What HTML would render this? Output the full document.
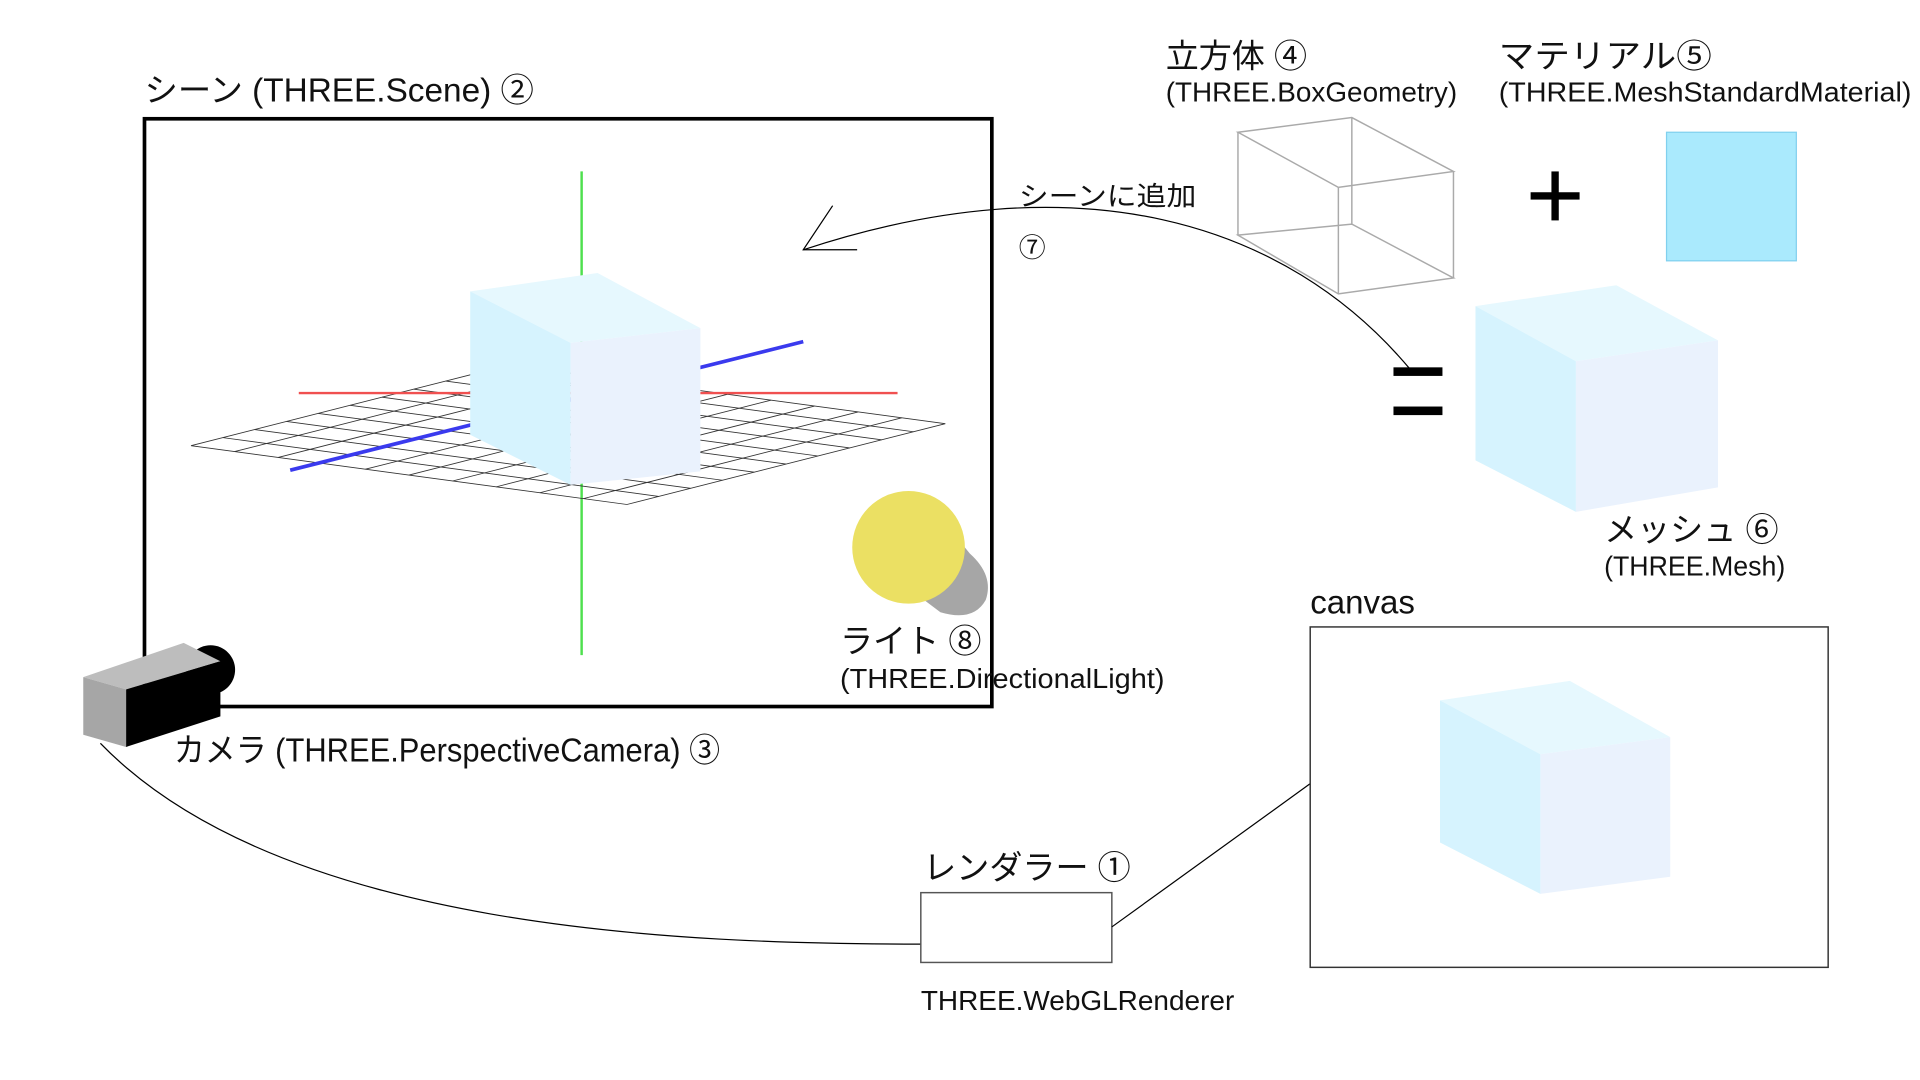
<!DOCTYPE html>
<html><head><meta charset="utf-8"><style>
html,body{margin:0;padding:0;background:#fff;width:1920px;height:1080px;overflow:hidden}
svg{display:block}
text{font-family:"Liberation Sans","Noto Sans CJK JP",sans-serif;fill:#111}
</style></head><body>
<svg width="1920" height="1080" viewBox="0 0 1568 882" preserveAspectRatio="none" xmlns="http://www.w3.org/2000/svg">
<rect width="1568" height="882" fill="#fff"/>
<!-- Scene -->
<text x="118" y="83" font-size="27" textLength="318" lengthAdjust="spacingAndGlyphs">シーン (THREE.Scene) ②</text>
<rect x="118" y="97" width="692" height="480" fill="none" stroke="#000" stroke-width="3"/>
<line x1="475" y1="140" x2="475" y2="535" stroke="#4ee04e" stroke-width="2"/>
<g stroke="#333" stroke-width="0.7" fill="none">
<path d="M156,364 L512,412 L772,346 L416,298 Z"/>
<path d="M182,357.4L538,405.4M208,350.8L564,398.8M234,344.2L590,392.2M260,337.6L616,385.6M286,331L642,379M312,324.4L668,372.4M338,317.8L694,365.8M364,311.2L720,359.2M390,304.6L746,352.6"/>
<path d="M191.6,368.8L451.6,302.8M227.2,373.6L487.2,307.6M262.8,378.4L522.8,312.4M298.4,383.2L558.4,317.2M334,388L594,322M369.6,392.8L629.6,326.8M405.2,397.6L665.2,331.6M440.8,402.4L700.8,336.4M476.4,407.2L736.4,341.2"/>
</g>
<line x1="244" y1="321" x2="733" y2="321" stroke="#f05050" stroke-width="2"/>
<line x1="237" y1="384" x2="656" y2="279" stroke="#3a3aee" stroke-width="3"/>
<polygon points="384,238 488,223 572,268 466,280" fill="#e6f8fe"/>
<polygon points="384,238 466,280 466,396 384,355" fill="#d6f3fe"/>
<polygon points="466,280 572,268 572,385 466,396" fill="#eaf2fd"/>
<!-- light -->
<path d="M770,425 L792,452 Q812,470 805,490 Q795,508 768,500 L752,488 Z" fill="#a6a6a6"/>
<circle cx="742" cy="447" r="46" fill="#ebe063"/>
<text x="686" y="533" font-size="27">ライト ⑧</text>
<text x="686" y="562" font-size="23" textLength="265" lengthAdjust="spacingAndGlyphs">(THREE.DirectionalLight)</text>
<!-- camera -->
<circle cx="172" cy="547" r="20" fill="#000"/>
<polygon points="68,553 150,525 180,540 103,563" fill="#bdbdbd"/>
<polygon points="68,553 103,563 103,610 68,600" fill="#a6a6a6"/>
<polygon points="103,563 180,540 180,585 103,610" fill="#000"/>
<text x="142" y="622" font-size="27" textLength="446" lengthAdjust="spacingAndGlyphs">カメラ (THREE.PerspectiveCamera) ③</text>
<path d="M82,607 C230,760 560,771 752,771" fill="none" stroke="#000" stroke-width="1"/>
<!-- renderer -->
<text x="754" y="718" font-size="27">レンダラー ①</text>
<rect x="752" y="729" width="156" height="57" fill="none" stroke="#555" stroke-width="1.2"/>
<text x="752" y="825" font-size="23" textLength="256" lengthAdjust="spacingAndGlyphs">THREE.WebGLRenderer</text>
<line x1="908" y1="757" x2="1070" y2="640" stroke="#000" stroke-width="1"/>
<!-- canvas -->
<text x="1070" y="501" font-size="27">canvas</text>
<rect x="1070" y="512" width="423" height="278" fill="none" stroke="#333" stroke-width="1.2"/>
<polygon points="1176,572 1282,556 1364,602 1258,616" fill="#e6f8fe"/>
<polygon points="1176,572 1258,616 1258,730 1176,688" fill="#d6f3fe"/>
<polygon points="1258,616 1364,602 1364,716 1258,730" fill="#eaf2fd"/>
<!-- geometry / material -->
<text x="952" y="55" font-size="27">立方体 ④</text>
<text x="952" y="83" font-size="23" textLength="238" lengthAdjust="spacingAndGlyphs">(THREE.BoxGeometry)</text>
<g stroke="#aaa" stroke-width="1.2" fill="none">
<polygon points="1011,108 1104,96 1187,140 1093,153"/>
<polygon points="1011,192 1104,183 1187,227 1093,240"/>
<line x1="1011" y1="108" x2="1011" y2="192"/><line x1="1104" y1="96" x2="1104" y2="183"/>
<line x1="1187" y1="140" x2="1187" y2="227"/><line x1="1093" y1="153" x2="1093" y2="240"/>
</g>
<rect x="1250" y="157" width="40" height="6" fill="#000"/>
<rect x="1267" y="140" width="6" height="40" fill="#000"/>
<text x="1224" y="55" font-size="27" textLength="174" lengthAdjust="spacingAndGlyphs">マテリアル⑤</text>
<text x="1224" y="83" font-size="23" textLength="337" lengthAdjust="spacingAndGlyphs">(THREE.MeshStandardMaterial)</text>
<rect x="1361" y="108" width="106" height="105" fill="#aaeafd" stroke="#80d0ee" stroke-width="1"/>
<!-- mesh -->
<rect x="1138" y="300" width="40" height="7" fill="#000"/>
<rect x="1138" y="332" width="40" height="7" fill="#000"/>
<polygon points="1205,250 1320,233 1403,278 1287,295" fill="#e6f8fe"/>
<polygon points="1205,250 1287,295 1287,418 1205,376" fill="#d6f3fe"/>
<polygon points="1287,295 1403,278 1403,398 1287,418" fill="#eaf2fd"/>
<text x="1310" y="442" font-size="27">メッシュ ⑥</text>
<text x="1310" y="470" font-size="23" textLength="148" lengthAdjust="spacingAndGlyphs">(THREE.Mesh)</text>
<!-- add to scene arrow -->
<text x="832" y="168" font-size="22" textLength="145" lengthAdjust="spacingAndGlyphs">シーンに追加</text>
<text x="832" y="210" font-size="22">⑦</text>
<path d="M1152,302 C1050,180 880,130 656,204" fill="none" stroke="#000" stroke-width="1"/>
<path d="M680,168 L656,204 L700,204" fill="none" stroke="#000" stroke-width="1"/>
</svg>
</body></html>
